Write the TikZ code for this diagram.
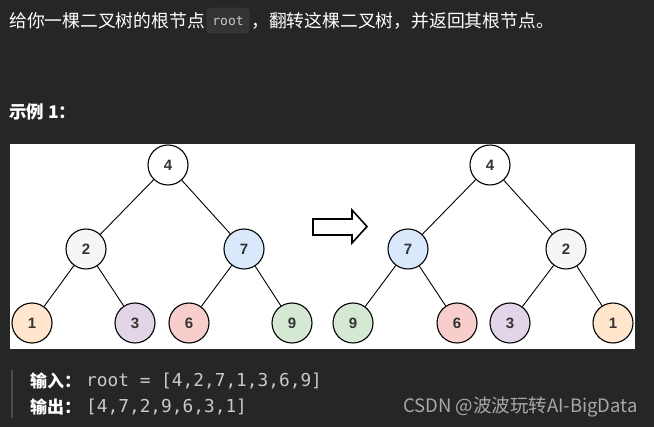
\documentclass[tikz,border=0pt]{standalone}
\usepackage{fontspec}
\setmainfont{Liberation Sans}
\setmonofont{DejaVu Sans Mono}
\newfontfamily\cjk{Noto Sans CJK SC}

\definecolor{pagebg}{HTML}{262626}
\definecolor{codebg}{HTML}{343434}
\definecolor{codeedge}{HTML}{484848}
\definecolor{codetext}{HTML}{C8C8C8}
\definecolor{quotebar}{HTML}{4D4D4D}
\definecolor{wmgray}{HTML}{A8A8A8}
\definecolor{digit}{HTML}{333333}
\definecolor{cone}{HTML}{FFE6CC}
\definecolor{ctwo}{HTML}{F5F5F5}
\definecolor{cthree}{HTML}{E1D5E7}
\definecolor{csix}{HTML}{F8CECC}
\definecolor{cseven}{HTML}{DAE8FC}
\definecolor{cnine}{HTML}{D5E8D4}

\begin{document}
\begin{tikzpicture}[x=1pt,y=-1pt,
  tnode/.style={circle, draw=black, line width=1.1pt, minimum size=40pt, inner sep=0pt,
    text=digit, font=\fontsize{15}{15}\selectfont\bfseries},
  tedge/.style={line width=0.9pt},
  cntext/.style={inner sep=0pt, anchor=west, text=white, font=\cjk\fontsize{17.8}{17.8}\selectfont},
  codetxt/.style={inner sep=0pt, anchor=west, text=codetext, font=\ttfamily\fontsize{17.8}{17.8}\selectfont}]
  \fill[pagebg] (0,0) rectangle (654,427);
  \useasboundingbox (0,0) rectangle (654,427);

  % question line
  \node[cntext] (qa) at (9,21) {给你一棵二叉树的根节点};
  \filldraw[fill=codebg, draw=codeedge, rounded corners=4pt] (207,8) rectangle (249,33);
  \node[inner sep=0pt, text=codetext, font=\ttfamily\fontsize{13}{13}\selectfont] (rt) at (228,21) {root};
  \node[cntext] (qb) at (251,21) {，翻转这棵二叉树，并返回其根节点。};
  \node[cntext, font=\cjk\fontsize{17.5}{17.5}\selectfont\bfseries] (ex) at (9,112) {示例 1：};

  \fill[white] (10,144) rectangle (635,349);

  % before
  \node[tnode, fill=white] (l4) at (168,165) {4};
  \node[tnode, fill=ctwo] (l2) at (86,249) {2};
  \node[tnode, fill=cseven] (l7) at (244,249) {7};
  \node[tnode, fill=cone] (l1) at (32,323) {1};
  \node[tnode, fill=cthree] (l3) at (135,323) {3};
  \node[tnode, fill=csix] (l6) at (189,323) {6};
  \node[tnode, fill=cnine] (l9) at (292,323) {9};
  \draw[tedge] (l4) -- (l2);
  \draw[tedge] (l4) -- (l7);
  \draw[tedge] (l2) -- (l1);
  \draw[tedge] (l2) -- (l3);
  \draw[tedge] (l7) -- (l6);
  \draw[tedge] (l7) -- (l9);

  \draw[line width=1.6pt, fill=white] (313,219) -- (352,219) -- (352,210) -- (367,226.5)
    -- (352,243) -- (352,235) -- (313,235) -- cycle;

  % after
  \node[tnode, fill=white] (r4) at (490,165) {4};
  \node[tnode, fill=cseven] (r7) at (408,249) {7};
  \node[tnode, fill=ctwo] (r2) at (566,249) {2};
  \node[tnode, fill=cnine] (r9) at (353,323) {9};
  \node[tnode, fill=csix] (r6) at (457,323) {6};
  \node[tnode, fill=cthree] (r3) at (510,323) {3};
  \node[tnode, fill=cone] (r1) at (613,323) {1};
  \draw[tedge] (r4) -- (r7);
  \draw[tedge] (r4) -- (r2);
  \draw[tedge] (r7) -- (r9);
  \draw[tedge] (r7) -- (r6);
  \draw[tedge] (r2) -- (r3);
  \draw[tedge] (r2) -- (r1);

  % input / output
  \fill[quotebar] (10.5,370) rectangle (13,418);
  \node[cntext, font=\cjk\fontsize{17}{17}\selectfont\bfseries] (in) at (30,381) {输入：};
  \node[codetxt] (inv) at (86,381) {root = [4,2,7,1,3,6,9]};
  \node[cntext, font=\cjk\fontsize{17}{17}\selectfont\bfseries] (out) at (30,407) {输出：};
  \node[codetxt] (outv) at (86,407) {[4,7,2,9,6,3,1]};
  \node[inner sep=0pt, anchor=east, text=wmgray, font=\cjk\fontsize{18.5}{18.5}\selectfont] (wm) at (638,407) {CSDN @波波玩转AI-BigData};
\end{tikzpicture}
\end{document}
